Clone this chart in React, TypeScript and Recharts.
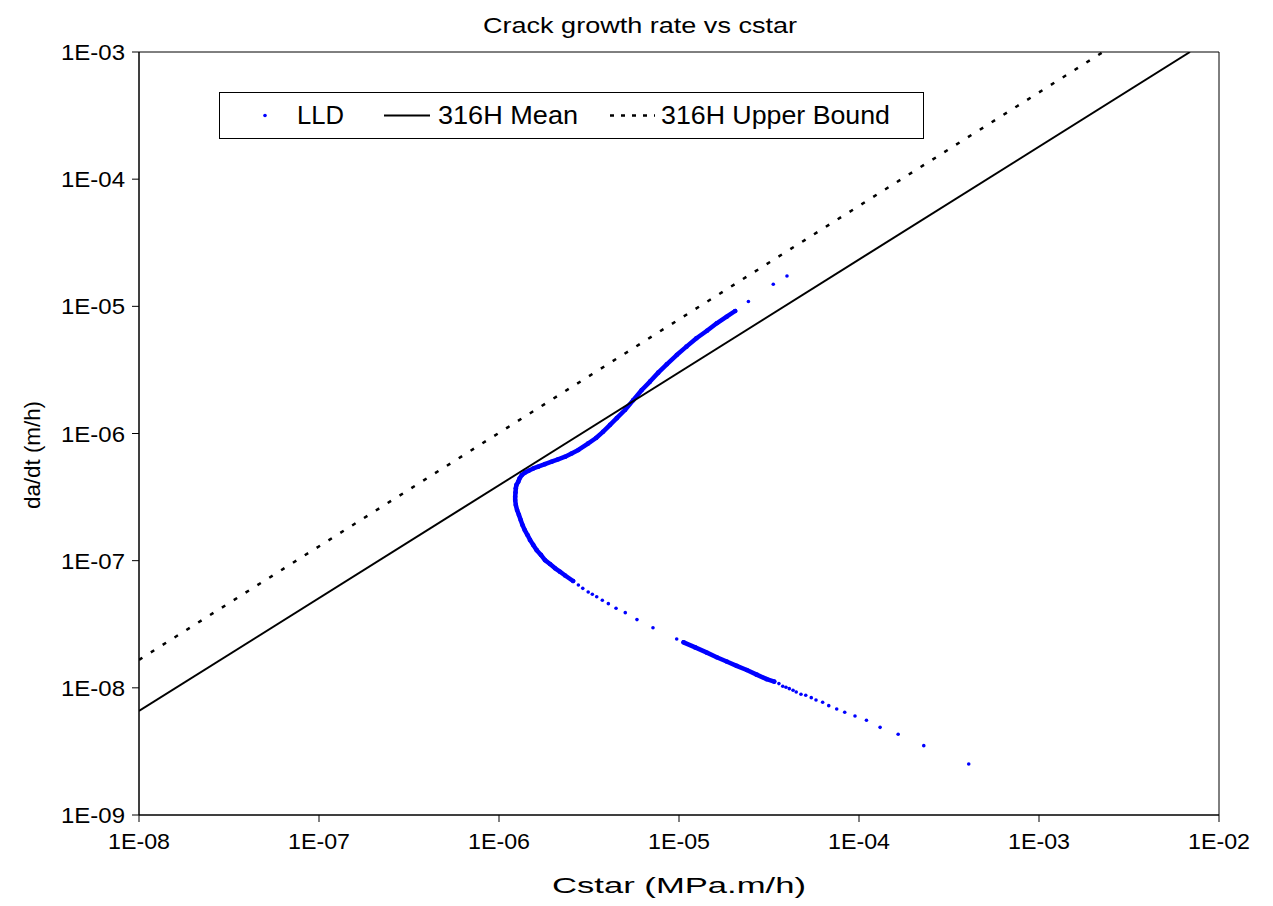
import React from 'react';
import { ScatterChart, Scatter, XAxis, YAxis, ReferenceArea, Legend } from 'recharts';

const FONT = '"Liberation Sans", Arial, sans-serif';
const BLUE = '#0000ff';

// axis ticks
const xTicks = [1e-8, 1e-7, 1e-6, 1e-5, 1e-4, 1e-3, 1e-2];
const xTickLabels = ['1E-08', '1E-07', '1E-06', '1E-05', '1E-04', '1E-03', '1E-02'];
const yTicks = [1e-9, 1e-8, 1e-7, 1e-6, 1e-5, 1e-4, 1e-3];
const yTickLabels = ['1E-09', '1E-08', '1E-07', '1E-06', '1E-05', '1E-04', '1E-03'];

// LLD data, Cstar (MPa.m/h) vs da/dt (m/h)
const lldTopPoints = [
  { x: 3.98e-5, y: 1.73e-5 },
  { x: 3.34e-5, y: 1.49e-5 },
  { x: 2.43e-5, y: 1.09e-5 },
];

// dense run, upper branch round the nose
const lldUpperBand = [
  { x: 2.05e-5, y: 9.19e-6 }, { x: 1.84e-5, y: 8.29e-6 }, { x: 1.62e-5, y: 7.36e-6 },
  { x: 1.43e-5, y: 6.43e-6 }, { x: 1.25e-5, y: 5.61e-6 }, { x: 1.10e-5, y: 4.82e-6 },
  { x: 9.71e-6, y: 4.14e-6 }, { x: 8.55e-6, y: 3.50e-6 }, { x: 7.67e-6, y: 3.01e-6 },
  { x: 6.90e-6, y: 2.56e-6 }, { x: 6.21e-6, y: 2.20e-6 }, { x: 5.57e-6, y: 1.83e-6 },
  { x: 5.01e-6, y: 1.53e-6 }, { x: 4.51e-6, y: 1.32e-6 }, { x: 4.14e-6, y: 1.17e-6 },
  { x: 3.78e-6, y: 1.03e-6 }, { x: 3.46e-6, y: 9.22e-7 }, { x: 3.12e-6, y: 8.34e-7 },
  { x: 2.76e-6, y: 7.42e-7 }, { x: 2.53e-6, y: 6.96e-7 }, { x: 2.33e-6, y: 6.57e-7 },
  { x: 2.13e-6, y: 6.27e-7 }, { x: 1.96e-6, y: 6.00e-7 }, { x: 1.80e-6, y: 5.74e-7 },
  { x: 1.65e-6, y: 5.48e-7 }, { x: 1.55e-6, y: 5.31e-7 }, { x: 1.46e-6, y: 5.10e-7 },
  { x: 1.39e-6, y: 4.92e-7 }, { x: 1.34e-6, y: 4.72e-7 }, { x: 1.30e-6, y: 4.43e-7 },
  { x: 1.28e-6, y: 4.18e-7 }, { x: 1.25e-6, y: 3.94e-7 }, { x: 1.24e-6, y: 3.71e-7 },
  { x: 1.235e-6, y: 3.44e-7 }, { x: 1.23e-6, y: 3.18e-7 }, { x: 1.23e-6, y: 3.00e-7 },
  { x: 1.24e-6, y: 2.74e-7 }, { x: 1.26e-6, y: 2.50e-7 }, { x: 1.29e-6, y: 2.29e-7 },
  { x: 1.32e-6, y: 2.09e-7 }, { x: 1.35e-6, y: 1.91e-7 }, { x: 1.39e-6, y: 1.74e-7 },
  { x: 1.44e-6, y: 1.59e-7 }, { x: 1.49e-6, y: 1.45e-7 }, { x: 1.55e-6, y: 1.33e-7 },
  { x: 1.62e-6, y: 1.21e-7 }, { x: 1.71e-6, y: 1.11e-7 }, { x: 1.80e-6, y: 1.01e-7 },
  { x: 1.92e-6, y: 9.42e-8 }, { x: 2.05e-6, y: 8.71e-8 }, { x: 2.18e-6, y: 8.19e-8 },
  { x: 2.33e-6, y: 7.65e-8 }, { x: 2.58e-6, y: 6.92e-8 },
];

const lldMidPoints = [
  { x: 2.76e-6, y: 6.44e-8 }, { x: 2.92e-6, y: 6.06e-8 }, { x: 3.13e-6, y: 5.67e-8 },
  { x: 3.30e-6, y: 5.44e-8 }, { x: 3.49e-6, y: 5.21e-8 }, { x: 3.75e-6, y: 4.88e-8 },
  { x: 4.05e-6, y: 4.59e-8 }, { x: 4.47e-6, y: 4.22e-8 }, { x: 5.03e-6, y: 3.90e-8 },
  { x: 5.84e-6, y: 3.44e-8 }, { x: 7.17e-6, y: 2.97e-8 }, { x: 9.71e-6, y: 2.42e-8 },
];

// dense run, lower branch
const lldLowerBand = [
  { x: 1.06e-5, y: 2.28e-8 }, { x: 1.23e-5, y: 2.08e-8 }, { x: 1.43e-5, y: 1.89e-8 },
  { x: 1.62e-5, y: 1.74e-8 }, { x: 1.84e-5, y: 1.61e-8 }, { x: 2.09e-5, y: 1.49e-8 },
  { x: 2.38e-5, y: 1.38e-8 }, { x: 2.70e-5, y: 1.27e-8 }, { x: 3.07e-5, y: 1.17e-8 },
  { x: 3.38e-5, y: 1.12e-8 },
];

const lldTailPoints = [
  { x: 3.59e-5, y: 1.08e-8 }, { x: 3.77e-5, y: 1.03e-8 }, { x: 3.93e-5, y: 1.01e-8 },
  { x: 4.10e-5, y: 9.85e-9 }, { x: 4.30e-5, y: 9.57e-9 }, { x: 4.48e-5, y: 9.28e-9 },
  { x: 4.76e-5, y: 8.90e-9 }, { x: 5.06e-5, y: 8.74e-9 }, { x: 5.43e-5, y: 8.37e-9 },
  { x: 5.77e-5, y: 8.02e-9 }, { x: 6.28e-5, y: 7.70e-9 }, { x: 6.79e-5, y: 7.24e-9 },
  { x: 7.52e-5, y: 6.82e-9 }, { x: 8.33e-5, y: 6.42e-9 }, { x: 9.50e-5, y: 6.01e-9 },
  { x: 1.10e-4, y: 5.56e-9 }, { x: 1.31e-4, y: 4.89e-9 }, { x: 1.65e-4, y: 4.31e-9 },
  { x: 2.29e-4, y: 3.51e-9 }, { x: 4.07e-4, y: 2.52e-9 },
];

// 316H reference lines
const meanLine = [{ x: 1e-8, y: 6.58e-9 }, { x: 6.9e-3, y: 1e-3 }];
const upperBoundLine = [{ x: 1e-8, y: 1.66e-8 }, { x: 2.27e-3, y: 1e-3 }];

const smallDot = (props: any) => <circle cx={props.cx} cy={props.cy} r={1.8} fill={BLUE} />;
const bandDot = (props: any) => <circle cx={props.cx} cy={props.cy} r={2.3} fill={BLUE} />;
const noDot = () => <g />;

const XTick = (props: any) => {
  const i = xTicks.indexOf(props.payload.value);
  return (
    <text x={props.x} y={815 + 34} textAnchor="middle" fontSize={22} fontFamily={FONT} fill="#000"
      textLength={62} lengthAdjust="spacingAndGlyphs">
      {xTickLabels[i]}
    </text>
  );
};

const YTick = (props: any) => {
  const i = yTicks.indexOf(props.payload.value);
  return (
    <text x={125} y={props.y} dy={8} textAnchor="end" fontSize={22} fontFamily={FONT} fill="#000"
      textLength={64} lengthAdjust="spacingAndGlyphs">
      {yTickLabels[i]}
    </text>
  );
};

const renderLegend = () => (
  <svg width={705} height={47} style={{ display: 'block' }}>
    <rect x={0.5} y={0.5} width={704} height={46} fill="#fff" stroke="#000" strokeWidth={1} />
    <circle cx={46} cy={23.5} r={1.8} fill={BLUE} />
    <text x={78} y={32} fontSize={25} fontFamily={FONT} textLength={47} lengthAdjust="spacingAndGlyphs">LLD</text>
    <line x1={165} y1={23.5} x2={211} y2={23.5} stroke="#000" strokeWidth={2} />
    <text x={219} y={32} fontSize={25} fontFamily={FONT} textLength={140} lengthAdjust="spacingAndGlyphs">316H Mean</text>
    <line x1={391} y1={23.5} x2={436} y2={23.5} stroke="#000" strokeWidth={2.5} strokeDasharray="4 7" />
    <text x={442} y={32} fontSize={25} fontFamily={FONT} textLength={229} lengthAdjust="spacingAndGlyphs">316H Upper Bound</text>
  </svg>
);

export default function App() {
  return (
    <div style={{ position: 'absolute', left: 0, top: 0, width: 1273, height: 906, background: '#fff' }}>
      <ScatterChart width={1273} height={906} margin={{ top: 52, right: 54, bottom: 0, left: 0 }}>
        <XAxis
          type="number"
          dataKey="x"
          scale="log"
          domain={[1e-8, 1e-2]}
          ticks={xTicks}
          allowDataOverflow
          height={91}
          stroke="#000"
          tickSize={7}
          tick={XTick}
        />
        <YAxis
          type="number"
          dataKey="y"
          scale="log"
          domain={[1e-9, 1e-3]}
          ticks={yTicks}
          allowDataOverflow
          width={139}
          stroke="#000"
          tickSize={7}
          tick={YTick}
        />
        <ReferenceArea x1={1e-8} x2={1e-2} y1={1e-9} y2={1e-3} fill="none" stroke="#000" strokeWidth={1} ifOverflow="visible" />
        <Scatter name="LLD" data={lldTopPoints} shape={smallDot} isAnimationActive={false} />
        <Scatter name="LLD band" data={lldUpperBand} shape={bandDot} isAnimationActive={false}
          line={{ stroke: BLUE, strokeWidth: 4.5, strokeLinecap: 'round', strokeLinejoin: 'round' }} lineType="joint" />
        <Scatter name="LLD mid" data={lldMidPoints} shape={smallDot} isAnimationActive={false} />
        <Scatter name="LLD lower" data={lldLowerBand} shape={bandDot} isAnimationActive={false}
          line={{ stroke: BLUE, strokeWidth: 4.5, strokeLinecap: 'round', strokeLinejoin: 'round' }} lineType="joint" />
        <Scatter name="LLD tail" data={lldTailPoints} shape={smallDot} isAnimationActive={false} />
        <Scatter name="316H Mean" data={meanLine} shape={noDot} isAnimationActive={false}
          line={{ stroke: '#000', strokeWidth: 2 }} lineType="joint" />
        <Scatter name="316H Upper Bound" data={upperBoundLine} shape={noDot} isAnimationActive={false}
          line={{ stroke: '#000', strokeWidth: 2.5, strokeDasharray: '4 10' }} lineType="joint" />
        <Legend
          layout="horizontal"
          verticalAlign="middle"
          align="center"
          content={renderLegend}
          wrapperStyle={{ position: 'absolute', left: 219, top: 92, width: 705, height: 47 }}
        />
      </ScatterChart>
      <svg width={1273} height={906} style={{ position: 'absolute', left: 0, top: 0, pointerEvents: 'none' }}>
        <text x={640} y={33} textAnchor="middle" fontSize={22} fontFamily={FONT} textLength={314} lengthAdjust="spacingAndGlyphs">
          Crack growth rate vs cstar
        </text>
        <text x={679} y={893} textAnchor="middle" fontSize={22} fontFamily={FONT} textLength={254} lengthAdjust="spacingAndGlyphs">
          Cstar (MPa.m/h)
        </text>
        <text transform="translate(40, 455) rotate(-90)" textAnchor="middle" fontSize={22} fontFamily={FONT} textLength={108} lengthAdjust="spacingAndGlyphs">
          da/dt (m/h)
        </text>
      </svg>
    </div>
  );
}
